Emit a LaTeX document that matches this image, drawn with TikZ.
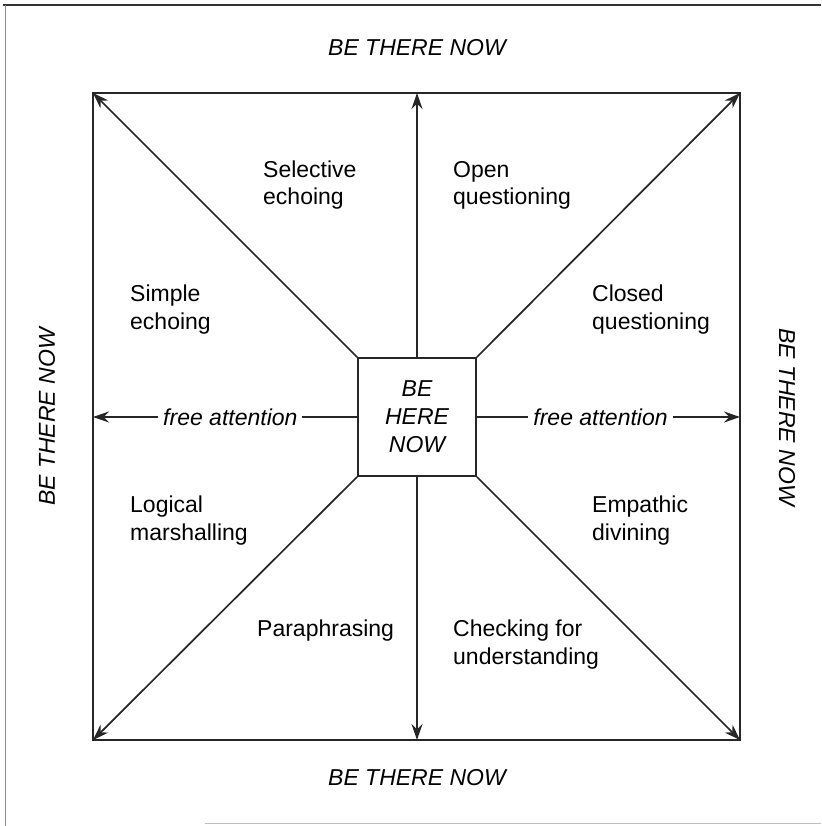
\documentclass[tikz,border=0pt]{standalone}
\usepackage{fontspec}
\setmainfont{Liberation Sans}
\usetikzlibrary{arrows.meta}
\begin{document}
\begin{tikzpicture}[x=1pt,y=-1pt,
  txt/.style={font=\fontsize{23}{28}\selectfont, inner sep=0pt},
  lbl/.style={txt, align=left, anchor=base west},
  ital/.style={txt, font=\fontsize{23}{28}\selectfont\itshape},
  frame/.style={line width=1.7pt, draw=black!85},
  arr/.style={frame, -{Stealth[length=16pt,width=11pt]}},
  gap/.style={ital, fill=white, inner xsep=5pt, inner ysep=2pt}]
\path[use as bounding box] (0,0) rectangle (821,826);
% outer page frame
\draw[line width=1.6pt, black!80] (3,5) -- (821,5);
\draw[line width=0.8pt, black!45] (5,5) -- (5,826);
\draw[line width=1pt, black!25] (205,823) -- (821,823);
% corners of the square
\coordinate (nw) at (93,93);
\coordinate (ne) at (740,93);
\coordinate (sw) at (93,740);
\coordinate (se) at (740,740);
\coordinate (tm) at (417,93);
\coordinate (bm) at (417,740);
\coordinate (lm) at (93,417);
\coordinate (rm) at (740,417);
\draw[frame] (nw) -- (ne) -- (se) -- (sw) -- cycle;
% centre box
\node[frame, draw, minimum size=118pt, ital, align=center] (c) at (417,417) {BE\\HERE\\NOW};
% arrows
\draw[arr] (c.north) -- (tm);
\draw[arr] (c.south) -- (bm);
\draw[arr] (c.north west) -- (nw);
\draw[arr] (c.north east) -- (ne);
\draw[arr] (c.south west) -- (sw);
\draw[arr] (c.south east) -- (se);
\draw[arr] (c.west) -- node[gap, pos=0.48] (fal) {free attention} (lm);
\draw[arr] (c.east) -- node[gap, pos=0.47] (far) {free attention} (rm);
% outer labels
\node[ital] (top) at (417,48) {BE THERE NOW};
\node[ital] (bot) at (417,778) {BE THERE NOW};
\node[ital, rotate=90] (lft) at (47,417) {BE THERE NOW};
\node[ital, rotate=-90] (rgt) at (787,417) {BE THERE NOW};
% sector labels (base anchor = last line)
\node[lbl] (sel) at (263,205) {Selective\\echoing};
\node[lbl] (opn) at (453,205) {Open\\questioning};
\node[lbl] (smp) at (130,329) {Simple\\echoing};
\node[lbl] (cls) at (592,329) {Closed\\questioning};
\node[lbl] (log) at (130,540) {Logical\\marshalling};
\node[lbl] (emp) at (592,540) {Empathic\\divining};
\node[lbl] (par) at (257,636) {Paraphrasing};
\node[lbl] (chk) at (453,664) {Checking for\\understanding};
\end{tikzpicture}
\end{document}
